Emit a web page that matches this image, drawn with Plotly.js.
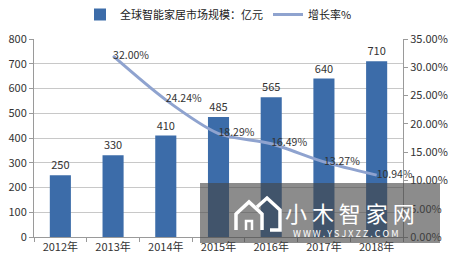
<!DOCTYPE html>
<html><head><meta charset="utf-8">
<script src="https://cdn.plot.ly/plotly-3.0.1.min.js"></script>
<style>html,body{margin:0;padding:0;background:#fff;}#c{width:450px;height:261px;}</style>
</head><body><div id="c"></div>
<script>
const years = ['2012年','2013年','2014年','2015年','2016年','2017年','2018年'];
const marketSize = [250,330,410,485,565,640,710];
const growthRate = [null,32.00,24.24,18.29,16.49,13.27,10.94];
const barName = '全球智能家居市场规模：亿元';
const lineName = '增长率%';

const W=450,H=261,L=34,R=47,T=39,B=24;
const pw=W-L-R, ph=H-T-B;
const px=x=>(x-L)/pw, py=y=>(H-B-y)/ph;
const font="'Noto Sans CJK SC','Noto Sans',sans-serif";

const traces=[
 {type:'bar',x:years,y:marketSize,name:barName,marker:{color:'#3c6ca9'},
  text:marketSize.map(String),textposition:'outside',cliponaxis:false,
  textfont:{size:11,color:'#333'}},
 {type:'scatter',mode:'lines+text',x:years,y:growthRate,yaxis:'y2',name:lineName,
  line:{color:'#8fa3cf',width:3,shape:'spline',smoothing:0.8},connectgaps:false,
  text:growthRate.map(v=>v==null?'':v.toFixed(2)+'%'),textposition:'middle right',
  cliponaxis:false,textfont:{size:10.5,color:'#333'}}
];
function poly(pts){
  return 'M'+pts.map(p=>px(p[0])+','+py(p[1])).join(' L');
}
const shapes=[
 {type:'rect',xref:'paper',yref:'paper',x0:px(200),x1:px(440),y0:py(243),y1:py(183),
  fillcolor:'rgba(70,70,70,0.62)',line:{width:0},layer:'above'},
 {type:'path',xref:'paper',yref:'paper',path:poly([[236,230],[236,214],[249,202],[262,214],[262,230]]),
  line:{color:'#fff',width:3.5},layer:'above'},
 {type:'path',xref:'paper',yref:'paper',path:poly([[257,207],[267,198],[280,210],[280,230],[270,230]]),
  line:{color:'#fff',width:3.5},layer:'above'},
 {type:'path',xref:'paper',yref:'paper',path:poly([[246,230],[246,221],[252,221],[252,230]]),
  line:{color:'#fff',width:2.5},layer:'above'}
];

const layout={
 width:W,height:H,margin:{l:L,r:R,t:T,b:B},paper_bgcolor:'#fff',plot_bgcolor:'#fff',
 font:{family:font,size:11,color:'#333'},
 showlegend:true,
 legend:{orientation:'h',x:0.5,xanchor:'center',y:1,yref:'container',yanchor:'top',
   font:{size:11,color:'#222'},itemwidth:30,tracegroupgap:0},
 bargap:0.6,
 xaxis:{type:'category',showline:true,linecolor:'#9a9a9a',linewidth:1,ticks:'outside',
   tickson:'boundaries',ticklen:4,tickcolor:'#9a9a9a',showgrid:false,tickfont:{size:11,color:'#333'}},
 yaxis:{range:[0,800],dtick:100,showline:true,linecolor:'#9a9a9a',ticks:'outside',ticklen:4,
   tickcolor:'#9a9a9a',gridcolor:'#c8c8c8',gridwidth:1,zeroline:false,tickfont:{size:11,color:'#333'}},
 yaxis2:{range:[0,35],dtick:5,overlaying:'y',side:'right',showline:true,linecolor:'#9a9a9a',
   ticks:'outside',ticklen:4,tickcolor:'#9a9a9a',showgrid:false,zeroline:false,
   tickformat:'.2f',ticksuffix:'%',tickfont:{size:11,color:'#333'}},
 shapes:shapes,
 annotations:[
  {xref:'paper',yref:'paper',x:px(350),y:py(212),text:'小 木 智 家 网',showarrow:false,
   font:{size:22,color:'#fff',family:font},xanchor:'center',yanchor:'middle'},
  {xref:'paper',yref:'paper',x:px(346),y:py(233),text:'W W W . Y S J X Z Z . C O M',showarrow:false,
   font:{size:9,color:'#fff',family:font},xanchor:'center',yanchor:'middle'}
 ]
};
Plotly.newPlot('c',traces,layout,{displayModeBar:false,staticPlot:true});
</script></body></html>
